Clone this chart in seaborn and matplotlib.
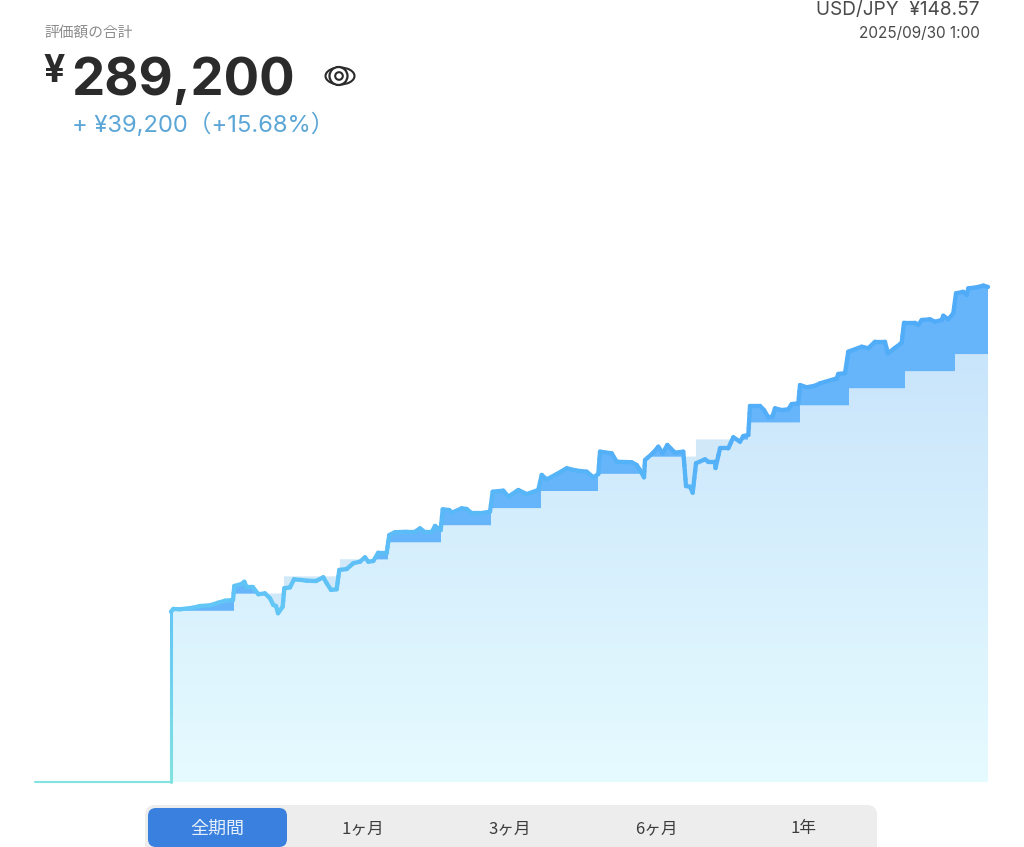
import numpy as np
import pandas as pd
import matplotlib
matplotlib.use('Agg')
import matplotlib.pyplot as plt
from matplotlib.colors import LinearSegmentedColormap, to_hex
from matplotlib.patches import Ellipse, FancyBboxPatch, Circle
import seaborn as sns

# sample step on the x axis, total value in thousand yen
value_x = [0, 2.3, 9, 22, 29, 39, 47, 54, 62, 63.3, 70.7, 73.3, 75.7, 82, 87.3, 94, 99, 102.3, 105, 107,
           111.7, 113.3, 119, 123, 130.7, 135.7, 145, 152.3, 155.7, 160, 165.7, 168.3, 175.7, 182.3, 189,
           194, 197.3, 202.3, 207.3, 215.7, 218.3, 224, 235.7, 244, 249, 254, 260.7, 264, 269.7,
           271.7, 278.3, 280.7, 290.7, 295.7, 300.7, 309, 319, 321.7, 332.3, 337.3, 347.3, 355.7, 367.3,
           370.7, 375.7, 385.7, 395.7, 405.7, 415.7, 422.3, 427.3, 429, 440.7, 445.7, 460.7, 465.7, 469,
           473, 474, 482.3, 487.3, 491.7, 496.3, 504, 512.3, 515, 519, 521.7, 525, 534, 537.3, 544, 544.5,
           549, 557.3, 562.3, 569, 572.3, 577.3, 579, 589, 593, 597.3, 601.3, 604, 610.7, 617.3, 620.7,
           627.3, 629, 635.7, 644, 649, 665.7, 667.3, 674, 677.3, 690.7, 697.3, 704, 714, 716.7, 730.7,
           733, 744, 747.3, 750.7, 759, 764, 770.7, 772.3, 777.3, 782.3, 785, 792.3, 795.7, 797.3, 805.7,
           812.3, 817]
value_k = [99.5, 101.1, 100.9, 101.8, 102.8, 103.2, 104.7, 105.9, 106.3, 114.5, 115.7, 117.0, 113.7, 113.7,
           109.7, 110.2, 107.3, 103.4, 102.8, 98.6, 102.4, 113.2, 113.7, 118.4, 118.0, 117.6, 117.4, 119.6,
           116.1, 112.2, 112.6, 123.9, 124.4, 127.8, 128.7, 131.3, 128.7, 129.1, 134.0, 134.0, 144.3, 145.9,
           146.2, 146.2, 148.2, 145.9, 145.9, 149.6, 147.2,
           159.3, 158.9, 157.3, 159.9, 159.5, 157.0, 157.0, 157.9, 169.6, 170.2, 166.7, 170.6, 168.2, 170.6,
           179.4, 176.8, 179.9, 183.3, 181.9, 181.3, 178.0, 179.9, 193.0, 192.0, 187.1, 186.8, 185.2, 182.3,
           178.0, 188.1, 192.4, 195.9, 192.0, 196.9, 192.4, 193.0, 172.9, 172.5, 169.0, 186.2, 188.5, 187.1,
           187.1, 183.4, 194.9, 194.9, 201.4, 198.8, 202.1, 202.7, 219.7, 219.7, 217.3, 213.1, 213.4, 218.3,
           217.3, 217.7, 220.8, 221.2, 231.9, 230.6, 231.5, 232.9, 235.8, 238.4, 238.8, 251.4, 254.3, 253.4,
           257.2, 257.2, 250.4, 256.6, 268.3, 268.3, 267.0, 269.9, 270.3, 268.9, 269.9, 272.4, 270.3, 273.8,
           285.5, 286.4, 284.5, 288.4, 289.0, 290.0, 289.2]

# invested amount: monthly steps, thousand yen
cost_x = [0, 63, 113, 169, 217, 270, 320, 370, 427, 474, 525, 577, 629, 678, 734, 784]
cost_k = [100, 110, 120, 130, 140, 150, 160, 170, 180, 190, 200, 210, 220, 230, 240, 250]

x_start = -136
x_end = 817

tab_labels = ['全期間', '1ヶ月', '3ヶ月', '6ヶ月', '1年']
tab_centers = [217, 363, 510, 656, 804]

sns.set_theme(style='white')
plt.rcParams['font.family'] = ['Inter', 'Noto Sans CJK JP', 'DejaVu Sans']

fig = plt.figure(figsize=(10.24, 8.47), dpi=100, facecolor='white')
W, H = 1024.0, 847.0
top_px = 200
ax = fig.add_axes([35 / W, (H - 782) / H, 953 / W, (782 - top_px) / H])
ax.set_xlim(x_start, x_end)
ax.set_ylim(0, (782 - top_px) * 0.5842)
ax.axis('off')

value_x = np.array(value_x)
value_k = np.array(value_k)
cost_x = np.array(cost_x)
cost_k = np.array(cost_k)

# grid for the areas, with both sides of each cost step
grid = np.unique(np.concatenate([value_x, cost_x, cost_x[1:] - 0.01]))
cost_grid = cost_k[np.searchsorted(cost_x, grid, side='right') - 1]
value_grid = np.interp(grid, value_x, value_k)

# pale gradient under the invested amount
grad_cmap = LinearSegmentedColormap.from_list('area', ['#e6fbff', '#c9e5fb'])
area = ax.fill_between(grid, 0, cost_grid, color='none', linewidth=0)
img = ax.imshow(np.linspace(0, 1, 256).reshape(-1, 1), cmap=grad_cmap, origin='lower', aspect='auto',
                extent=(0, x_end, 0, 250), zorder=1)
img.set_clip_path(area.get_paths()[0], transform=ax.transData)
ax.set_xlim(x_start, x_end)
ax.set_ylim(0, (782 - top_px) * 0.5842)

# gain and loss bands
ax.fill_between(grid, cost_grid, value_grid, where=value_grid >= cost_grid, interpolate=True,
                color='#66b5fa', linewidth=0, zorder=2)
ax.fill_between(grid, cost_grid, value_grid, where=value_grid <= cost_grid, interpolate=True,
                color='#d0e8f7', linewidth=0, zorder=2)

line_cmap = LinearSegmentedColormap.from_list('line', [(0, '#82e2e0'), (0.35, '#62c6f6'), (0.7, '#52aef8'),
                                                       (1, '#50acf8')])


def draw_line(xs, ys, width):
    # one short run per hue level, so the colour follows the value
    rows = []
    seg = 0
    for i in range(len(xs) - 1):
        pieces = max(1, int(np.ceil(abs(ys[i + 1] - ys[i]) / 5.0)))
        px = np.linspace(xs[i], xs[i + 1], pieces + 1)
        py = np.linspace(ys[i], ys[i + 1], pieces + 1)
        for j in range(pieces):
            rows.append((seg, px[j], py[j]))
            rows.append((seg, px[j + 1], py[j + 1]))
            seg += 1
    df = pd.DataFrame(rows, columns=['segment', 'x', 'k'])
    mids = df.groupby('segment')['k'].mean()
    palette = {s: to_hex(line_cmap(min(v / 290.0, 1.0))) for s, v in mids.items()}
    sns.lineplot(data=df, x='x', y='k', hue='segment', palette=palette, estimator=None, sort=False,
                 legend=False, linewidth=width, ax=ax, zorder=4, clip_on=False,
                 solid_capstyle='round')


draw_line([x_start, 0], [0, 0], 1.5)
draw_line([0, 0], [0, value_k[0]], 2.2)
draw_line(value_x, value_k, 3.1)

# header and period tabs live in a pixel overlay
ui = fig.add_axes([0, 0, 1, 1], facecolor='none')
ui.set_xlim(0, W)
ui.set_ylim(H, 0)
ui.axis('off')

cjk = ['Noto Sans CJK JP', 'DejaVu Sans']
latin = ['Inter', 'Noto Sans CJK JP', 'DejaVu Sans']

ui.text(44, 33, '評価額の合計', family=cjk, fontsize=10.6, color='#8c8c8c', ha='left', va='center')
ui.text(43.5, 82, '¥', family=latin, fontsize=27, fontweight='bold', color='#2b2b2b', ha='left', va='baseline')
ui.text(71, 95, '289,200', family=latin, fontsize=38, fontweight='bold', color='#2b2b2b', ha='left',
        va='baseline')
ui.text(72, 125, '+ ¥39,200（+15.68%）', family=latin, fontsize=17.1, color='#5ba6d6', ha='left', va='center')
ui.text(980, 15, 'USD/JPY  ¥148.57', family=latin, fontsize=13.7, color='#4a4a4a', ha='right', va='baseline')
ui.text(980, 38, '2025/09/30 1:00', family=latin, fontsize=11, color='#4a4a4a', ha='right', va='baseline')

# eye icon
ui.add_patch(Ellipse((340, 76), 29, 17, fill=False, ec='#2b2b2b', lw=1.5))
ui.add_patch(Circle((338.5, 76), 9, fill=True, fc='white', ec='#2b2b2b', lw=1.6))
ui.add_patch(Circle((339, 76), 3.8, fill=False, ec='#2b2b2b', lw=1.5))

ui.add_patch(FancyBboxPatch((145, 805), 732, 60, boxstyle='round,pad=0,rounding_size=10', ec='none', fc='#ededed'))
ui.add_patch(FancyBboxPatch((148, 808), 139, 39, boxstyle='round,pad=0,rounding_size=8', ec='none', fc='#3a80de'))
for i, (label, cx) in enumerate(zip(tab_labels, tab_centers)):
    ui.text(cx, 829, label, family=cjk, fontsize=13 if i == 0 else 12,
            color='#e6f0fb' if i == 0 else '#3c3c3c', ha='center', va='center')

fig.savefig('out.png', dpi=100)
